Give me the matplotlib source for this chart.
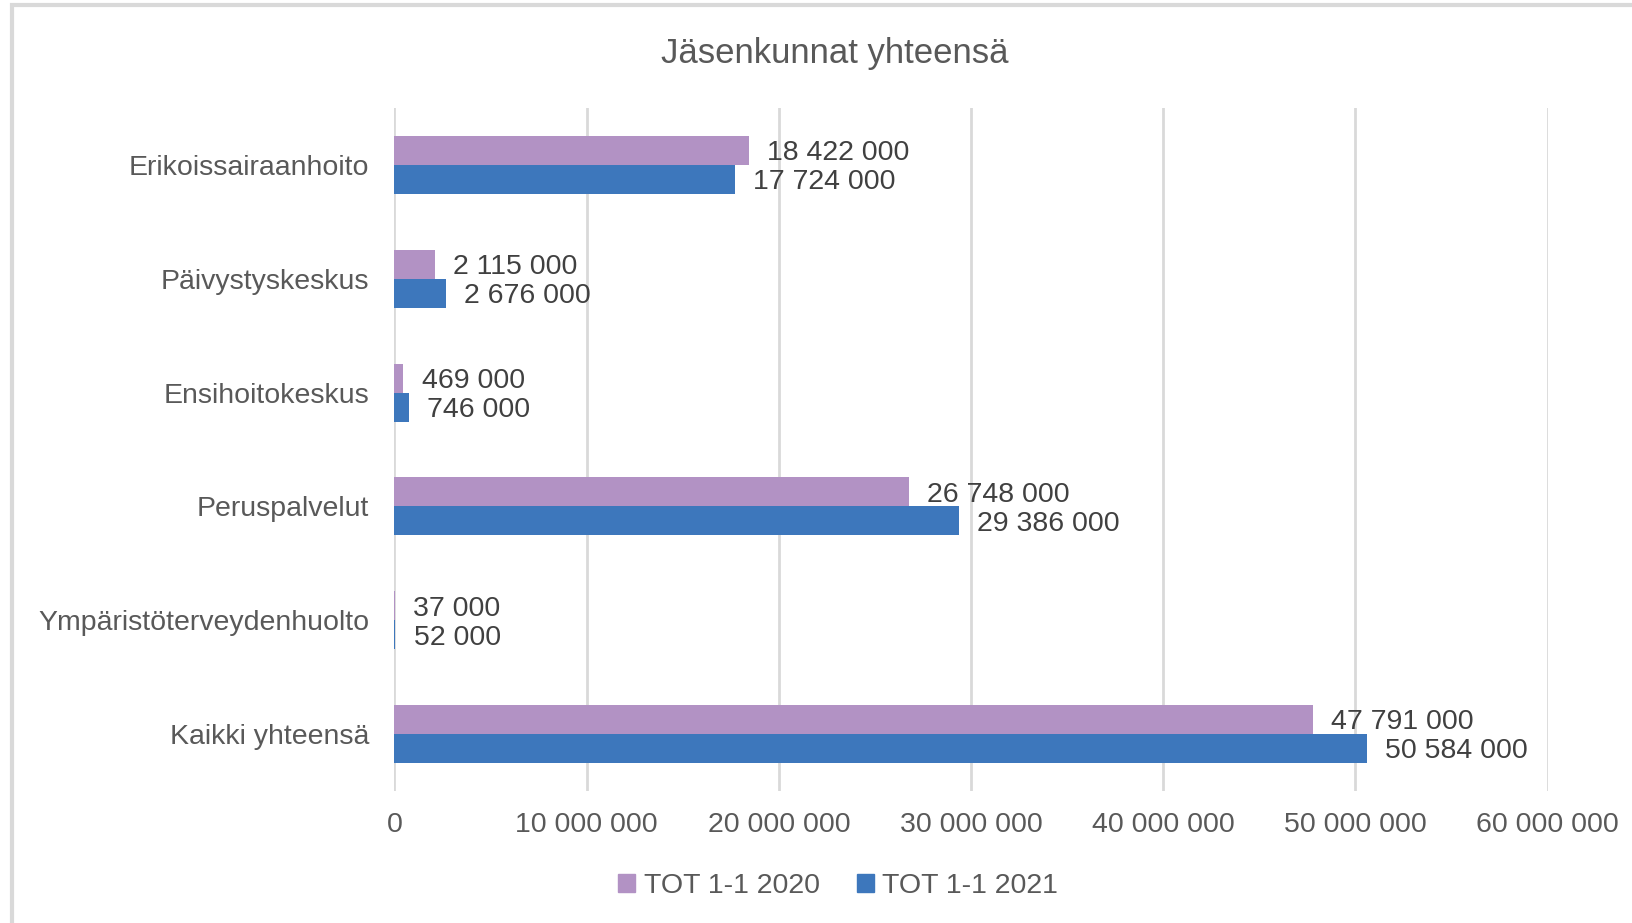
import matplotlib
matplotlib.use('Agg')
import matplotlib.pyplot as plt
from matplotlib.patches import Rectangle, Patch
from matplotlib.ticker import FuncFormatter
import numpy as np

plt.rcParams['font.family'] = ['Liberation Sans', 'DejaVu Sans']

categories = ['Erikoissairaanhoito', 'Päivystyskeskus', 'Ensihoitokeskus',
              'Peruspalvelut', 'Ympäristöterveydenhuolto', 'Kaikki yhteensä']
v2020 = [18422000, 2115000, 469000, 26748000, 37000, 47791000]
v2021 = [17724000, 2676000, 746000, 29386000, 52000, 50584000]
series_names = ['TOT 1-1 2020', 'TOT 1-1 2021']
xticks = [0, 10000000, 20000000, 30000000, 40000000, 50000000, 60000000]

c2020 = '#B292C4'
c2021 = '#3D77BC'
tick_col = '#595959'
lab_col = '#404040'
grid_col = '#D9D9D9'
fs = 20.5


def fmt(v, pos=None):
    return '{:,}'.format(int(v)).replace(',', ' ')


fig = plt.figure(figsize=(16.32, 9.23), dpi=100)
ax = fig.add_axes([0.2417, 0.143, 0.7066, 0.740])

# light border round the chart
fig.patches.append(Rectangle((12 / 1632, -0.05), 1.2, 1.05 - 5 / 923,
                             transform=fig.transFigure, fill=False,
                             edgecolor=grid_col, linewidth=3))

y = np.arange(len(categories))
h = 0.255
ax.barh(y - h / 2, v2020, height=h, color=c2020, label=series_names[0])
ax.barh(y + h / 2, v2021, height=h, color=c2021, label=series_names[1])

for yy, v in zip(y - h / 2, v2020):
    ax.annotate(fmt(v), (v, yy), xytext=(13, -2), textcoords='offset points',
                va='center', ha='left', fontsize=fs, color=lab_col)
for yy, v in zip(y + h / 2, v2021):
    ax.annotate(fmt(v), (v, yy), xytext=(13, -2), textcoords='offset points',
                va='center', ha='left', fontsize=fs, color=lab_col)

ax.set_xlim(0, 60000000)
ax.set_ylim(len(categories) - 0.5, -0.5)
ax.set_xticks(xticks)
ax.xaxis.set_major_formatter(FuncFormatter(fmt))
ax.set_yticks(y)
ax.set_yticklabels(categories)
ax.tick_params(axis='both', length=0, labelsize=fs, labelcolor=tick_col)
ax.tick_params(axis='x', pad=15)
ax.tick_params(axis='y', pad=18)
ax.grid(axis='x', color=grid_col, linewidth=2)
ax.set_axisbelow(True)
for s in ax.spines.values():
    s.set_visible(False)

fig.text(835 / 1632, 1 - 53 / 923, 'Jäsenkunnat yhteensä', fontsize=25,
         color=tick_col, ha='center', va='center')

handles = [Patch(color=c2020), Patch(color=c2021)]
fig.legend(handles, series_names, loc='center', bbox_to_anchor=(838 / 1632, 1 - 886 / 923),
           ncol=2, frameon=False, fontsize=fs, labelcolor=tick_col,
           handlelength=0.6, handleheight=0.6, handletextpad=0.3, columnspacing=1.3)

fig.savefig('out.png', dpi=100)
